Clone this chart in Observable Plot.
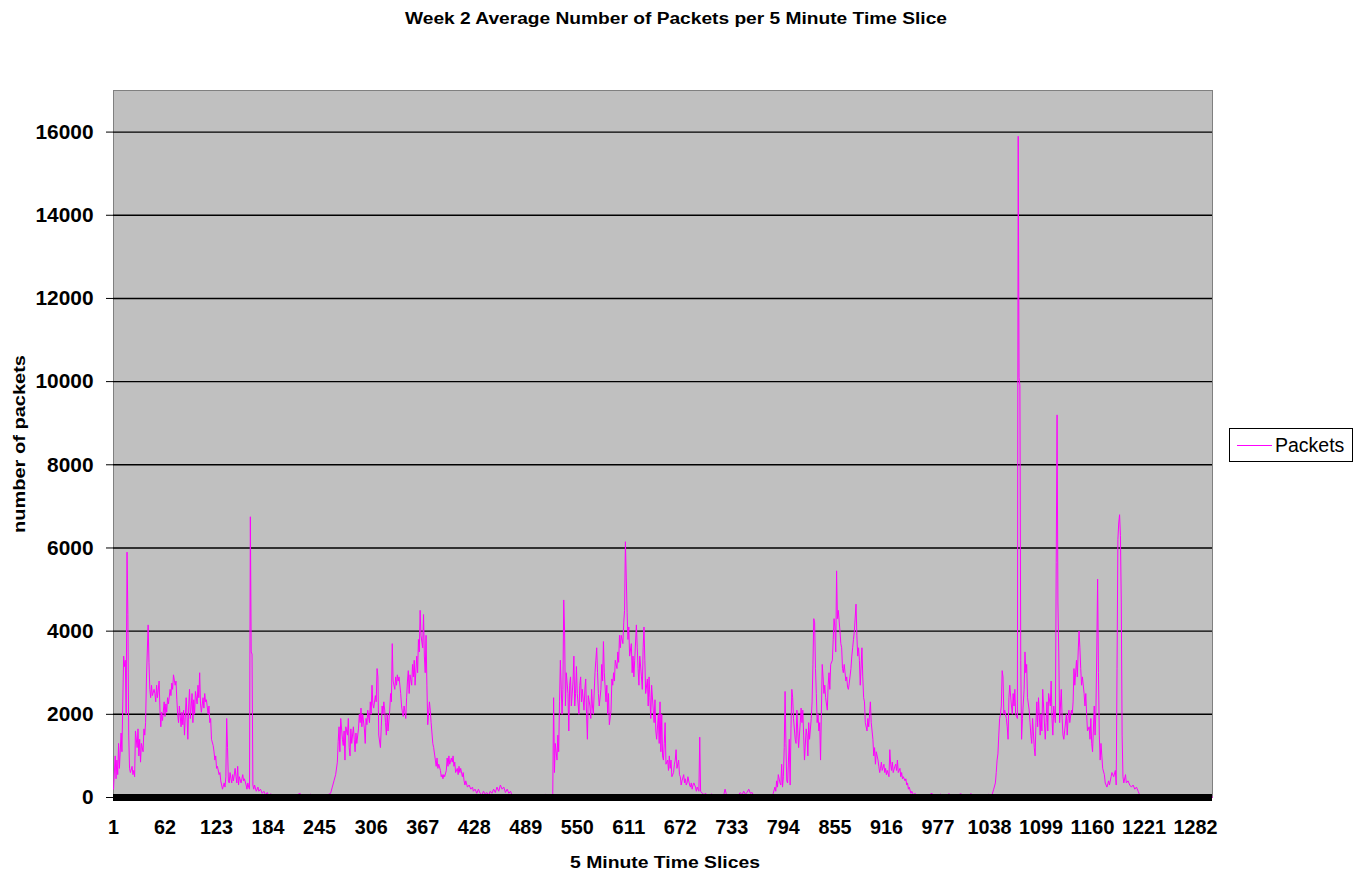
<!DOCTYPE html>
<html><head><meta charset="utf-8">
<script src="https://cdn.jsdelivr.net/npm/d3@7"></script>
<script src="https://cdn.jsdelivr.net/npm/@observablehq/plot@0.6"></script>
<style>
body{margin:0;background:#fff;}
#wrap{position:relative;width:1353px;height:872px;font-family:"Liberation Sans",Arial,sans-serif;}
#legend{position:absolute;left:1229px;top:428px;width:124px;height:34px;border:1px solid #000;background:#fff;box-sizing:border-box;}
#legend .sw{position:absolute;left:7px;top:16px;width:35px;height:1px;background:#ff00ff;}
#legend .lb{position:absolute;left:45px;top:5px;font-size:19.5px;color:#000;}
#chart{position:absolute;left:0;top:0;}
</style></head>
<body>
<div id="wrap">
<div id="chart"></div>
<div id="legend"><div class="sw"></div><div class="lb">Packets</div></div>
</div>
<script>
const chartTitle = "Week 2 Average Number of Packets per 5 Minute Time Slice";
const xLabel = "5 Minute Time Slices";
const yLabel = "number of packets";
const seriesName = "Packets";
const xTickLabels = [1,62,123,184,245,306,367,428,489,550,611,672,733,794,855,916,977,1038,1099,1160,1221,1282];
const yTickValues = [0,2000,4000,6000,8000,10000,12000,14000,16000];
const lastSlice = 1302;
// [time slice, packets]
const packetsBySlice = [
[1,200],[3,1000],[4,450],[5,900],[6,550],[7,1300],[8,700],[10,1550],[11,1100],[12,2300],[13,3400],[14,3150],[15,3300],[16,2000],[17,5900],[18,4400],[19,1500],[20,700],[21,600],[23,750],[24,550],[25,650],[26,500],[27,1600],[29,1200],[30,1650],[31,1000],[32,1400],[33,850],[34,1300],[36,1100],[37,1650],[38,1500],[39,1800],[40,2850],[42,4150],[43,3250],[44,2600],[45,2400],[46,2700],[47,2450],[49,2600],[50,2500],[51,2300],[52,2700],[53,2400],[55,2800],[56,2100],[57,1700],[58,2050],[59,1850],[61,2300],[62,1950],[63,2250],[64,2050],[65,2400],[66,2250],[68,2600],[69,2450],[70,2750],[71,2600],[72,2950],[74,2700],[75,2800],[76,2350],[77,2000],[78,1800],[79,2200],[81,1700],[82,2050],[83,1750],[84,2100],[85,1500],[87,2400],[88,2000],[89,1400],[90,2200],[91,2600],[92,1900],[94,2500],[95,1800],[96,2350],[97,2000],[98,2550],[100,2250],[101,2700],[102,2400],[103,3000],[104,2250],[105,2050],[107,2400],[108,2150],[109,2500],[110,2300],[111,2350],[113,2000],[114,2200],[115,1800],[116,1900],[117,1400],[119,1250],[120,1100],[121,900],[122,1000],[123,700],[124,750],[126,550],[127,600],[128,400],[129,300],[130,200],[132,350],[133,250],[134,500],[135,1900],[136,1200],[137,400],[138,350],[139,600],[140,450],[141,350],[142,550],[143,400],[145,700],[146,500],[147,350],[148,750],[149,300],[150,500],[152,350],[153,450],[154,550],[155,400],[156,450],[158,300],[159,200],[160,350],[161,250],[162,200],[163,6750],[164,3500],[165,3450],[166,300],[167,200],[168,300],[170,150],[172,250],[173,150],[175,200],[177,100],[179,150],[181,60],[183,120],[185,40],[187,90],[191,30],[195,60],[199,20],[203,50],[208,10],[214,30],[222,100],[224,10],[230,20],[234,80],[238,10],[244,40],[250,20],[254,60],[258,100],[260,250],[262,400],[264,550],[266,850],[267,1350],[268,1700],[269,1100],[270,1900],[272,1400],[273,1250],[274,1600],[275,900],[276,1700],[278,1500],[279,1900],[280,1200],[281,1000],[282,1650],[283,1300],[285,1700],[286,1400],[287,1100],[288,1550],[289,1300],[291,1650],[292,2000],[293,1800],[294,2150],[295,1700],[296,2000],[298,1650],[299,1300],[300,1900],[301,1750],[302,2100],[304,1800],[305,2300],[306,2000],[307,2700],[308,2250],[309,2150],[311,2450],[312,2300],[313,3100],[314,2900],[315,1500],[317,1200],[318,1700],[319,2200],[320,2000],[321,2300],[322,2100],
[323,1800],[324,1500],[325,2000],[326,1600],[328,2100],[329,2500],[330,2300],[331,3700],[332,2800],[334,2600],[335,2900],[336,2700],[337,2950],[338,2800],[339,2900],[341,2500],[342,2200],[343,2050],[344,1950],[345,2200],[347,1900],[348,2400],[349,2800],[350,3050],[351,2500],[352,2950],[354,2700],[355,3200],[356,2900],[357,3300],[358,2700],[360,3400],[361,3000],[362,3800],[363,3500],[364,4500],[365,3900],[367,3600],[368,4400],[369,3400],[370,3000],[371,3900],[372,2700],[373,1750],[375,2300],[376,2100],[377,1800],[378,1550],[379,1300],[380,1200],[382,900],[383,750],[384,950],[385,700],[386,800],[388,650],[389,500],[390,550],[391,450],[392,550],[393,500],[395,650],[396,950],[397,750],[398,1000],[399,800],[401,950],[402,850],[403,1000],[404,750],[405,850],[406,600],[408,700],[409,550],[410,750],[411,600],[412,700],[414,500],[415,600],[416,400],[417,300],[418,400],[420,250],[422,300],[424,200],[426,250],[427,150],[429,200],[431,100],[433,200],[435,100],[437,60],[439,150],[441,80],[443,120],[445,50],[447,150],[449,100],[451,200],[453,120],[455,250],[457,150],[459,300],[461,200],[463,250],[465,120],[467,200],[469,100],[471,150],[473,40],[477,20],[481,10],[485,30],[489,10],[493,40],[497,10],[500,20],[504,60],[508,10],[512,80],[516,10],[520,30],[521,50],
[522,2400],[523,600],[524,1300],[526,900],[527,1500],[528,1100],[529,2300],[530,3300],[532,2000],[533,2600],[534,4750],[535,4000],[536,2200],[537,3000],[539,2500],[540,1600],[541,2700],[542,2900],[543,2200],[545,2800],[546,3400],[547,2200],[548,2500],[549,3150],[550,2500],[552,2000],[553,2700],[554,2900],[555,2300],[556,2600],[558,2100],[559,2600],[560,2850],[561,2000],[562,1400],[563,2450],[565,2200],[566,1900],[567,2600],[568,2200],[569,2000],[571,3000],[572,3300],[573,3600],[574,3000],[575,2500],[576,2200],[578,2600],[579,3200],[580,2800],[581,3750],[582,3000],[584,2300],[585,2700],[586,2000],[587,2500],[588,1750],[590,2100],[591,2850],[592,2700],[593,3000],[594,2800],[595,3300],[597,3100],[598,3500],[599,3250],[600,3900],[601,3600],[602,3900],[604,3700],[605,4200],[606,4500],[607,6150],[608,5300],[609,4450],[610,3800],[611,4100],[612,3400],[614,3700],[615,3000],[616,3400],[617,2900],[618,3300],[620,4150],[621,3600],[622,3100],[623,2700],[624,3400],[626,2900],[627,2600],[628,3600],[629,4100],[630,3300],[631,2500],[633,2850],[634,2200],[635,2900],[636,2400],[637,1900],[638,2700],[640,2100],[641,1800],[642,2350],[643,1600],[644,1400],[646,2000],[647,1300],[648,2300],[649,1100],[650,2000],[651,1000],[652,900],[653,1300],[654,1800],[655,800],[657,900],[658,650],[659,1000],[660,700],[661,900],[662,500],[664,600],[665,800],[666,900],[667,1150],[668,700],[670,900],[671,550],[672,500],[673,300],[674,400],[676,550],[677,350],[678,450],[679,300],[680,350],[681,500],[683,300],[684,250],[685,350],[686,200],[687,300],[688,350],[690,250],[691,150],[692,250],[693,200],[694,150],[695,1450],[696,150],[698,100],[700,70],[702,100],[704,50],[706,80],[708,40],[709,90],[711,30],[713,60],[715,20],[719,50],[723,20],[725,200],[727,40],[731,20],[735,60],[739,20],[743,120],[745,60],[747,150],[749,80],[751,120],[753,200],[755,100],[757,120],[759,30],[763,20],[767,40],[771,20],[775,50],[779,30],
[782,100],[784,250],[785,150],[786,400],[787,250],[788,550],[790,350],[791,300],[792,800],[793,250],[794,500],[795,1200],[796,2550],[797,1300],[798,400],[799,350],[801,1400],[802,300],[803,1650],[804,2600],[805,2400],[806,1900],[808,1400],[809,1300],[810,2100],[811,1600],[812,1200],[814,1800],[815,2150],[816,1800],[817,2100],[818,1500],[819,900],[821,1650],[822,1500],[823,1000],[824,1800],[825,1400],[827,1900],[828,2300],[829,3200],[830,4300],[831,4200],[832,3100],[833,2500],[834,1800],[835,2000],[836,1600],[837,1800],[838,900],[840,3200],[841,2900],[842,2500],[843,2700],[844,2400],[846,2100],[847,2700],[848,3000],[849,2600],[850,3200],[852,3300],[853,3800],[854,4300],[855,4100],[856,3500],[857,5450],[858,4300],[859,4500],[861,4000],[862,3700],[863,3600],[864,3100],[865,3000],[866,3200],[868,2800],[869,2900],[870,2650],[871,2600],[872,2750],[874,3100],[875,3400],[876,3600],[877,3800],[878,4000],[880,4650],[881,3900],[882,3400],[883,3600],[884,3300],[885,2700],[887,3600],[888,2900],[889,2400],[890,2300],[891,1800],[893,1600],[894,1900],[895,1700],[896,2000],[897,2300],[898,1800],[900,1400],[901,1000],[902,1200],[903,800],[904,1100],[906,900],[907,750],[908,600],[909,700],[910,850],[911,650],[913,800],[914,600],[915,700],[916,550],[917,650],[919,500],[920,1150],[921,800],[922,650],[923,850],[924,600],[926,750],[927,800],[928,650],[929,900],[930,600],[932,700],[933,500],[934,600],[935,450],[936,500],[938,400],[939,450],[940,300],[941,350],[942,200],[943,250],[945,100],[946,150],[948,60],[950,100],[952,30],[956,60],[960,20],[964,40],[970,100],[972,20],[976,50],
[980,80],[984,20],[990,90],[996,20],[1004,90],[1010,20],[1016,90],[1022,20],[1027,70],[1033,30],[1037,80],[1039,30],[1041,60],[1043,200],[1045,350],[1046,600],[1047,900],[1048,1050],[1049,1500],[1050,1900],[1051,2000],[1052,2200],[1053,3050],[1054,2900],[1055,2000],[1056,2100],[1058,1900],[1059,1700],[1060,1400],[1061,2400],[1062,2700],[1064,2200],[1065,2000],[1066,2500],[1067,2200],[1068,2600],[1069,2000],[1071,1900],[1072,15900],[1073,10100],[1074,9900],[1075,3300],[1076,1400],[1077,1900],[1079,2600],[1080,3500],[1081,3000],[1082,3200],[1083,2400],[1085,2100],[1086,1800],[1087,1500],[1088,1300],[1089,1900],[1091,1200],[1092,1000],[1093,1800],[1094,2300],[1095,1700],[1096,2400],[1098,1500],[1099,2000],[1100,1600],[1101,2600],[1102,2200],[1104,1400],[1105,1800],[1106,2300],[1107,1600],[1108,2500],[1110,2200],[1111,2800],[1112,1900],[1113,1500],[1114,2200],[1116,1800],[1117,5650],[1118,9200],[1119,4700],[1120,3500],[1121,1800],[1123,2600],[1124,1900],[1125,1500],[1126,1400],[1127,1600],[1129,2000],[1130,1500],[1131,1900],[1132,2100],[1133,1800],[1135,2100],[1136,2000],[1137,2300],[1138,3100],[1139,2700],[1141,3300],[1142,2900],[1143,3500],[1144,4000],[1145,3600],[1146,3100],[1147,2700],[1148,2900],[1150,2500],[1151,2200],[1152,2500],[1153,2000],[1154,1600],[1156,1700],[1157,1400],[1158,1900],[1159,1300],[1160,1100],[1162,2200],[1163,1500],[1164,2100],[1165,3500],[1166,5250],[1167,3000],[1168,1500],[1169,900],[1170,1300],[1171,1000],[1172,700],[1174,550],[1175,350],[1177,250],[1179,400],[1180,300],[1182,500],[1183,600],[1185,500],[1187,650],[1188,300],[1189,3100],[1190,6200],[1191,6600],[1192,6800],[1193,6300],[1194,4700],[1195,1500],[1196,500],[1197,350],[1199,550],[1200,350],[1202,400],[1204,300],[1206,250],[1208,300],[1210,200],[1212,250],[1214,150],[1216,50],[1220,20],[1228,40],[1236,10],[1244,30],[1252,10],[1260,20],[1268,10],[1276,30],[1284,10],[1292,20],[1300,10],[1302,10]
];
const data = packetsBySlice.map(([slice, packets]) => ({slice, packets, series: seriesName}));

const chart = Plot.plot({
  width: 1353,
  height: 872,
  marginTop: 90,
  marginBottom: 75,
  marginLeft: 113,
  marginRight: 141,
  style: {fontFamily: '"Liberation Sans", Arial, sans-serif', fontSize: "20px", fontWeight: "bold", color: "#000", background: "transparent"},
  x: {domain: [1, lastSlice]},
  y: {domain: [0, 17000]},
  marks: [
    Plot.frame({fill: "#c0c0c0", stroke: "#808080"}),
    Plot.gridY(yTickValues.filter(d => d > 0), {stroke: "#000", strokeOpacity: 1, strokeWidth: 1.4}),
    Plot.axisY(yTickValues, {tickSize: 7, tickPadding: 13, stroke: "#000", label: null, fontSize: 21, tickFormat: d => String(d)}),
    Plot.axisX(xTickLabels, {tickSize: 0, tickPadding: 22, label: null, fontSize: 21, tickFormat: d => String(d)}),
    Plot.line(data, {x: "slice", y: "packets", stroke: "#ff00ff", strokeWidth: 1}),
    Plot.ruleY([0], {stroke: "#000", strokeWidth: 7}),
    Plot.text([yLabel], {frameAnchor: "left", dx: -94, rotate: -90, textAnchor: "middle", lineAnchor: "middle", fontSize: 17, fontWeight: "bold"}),
    Plot.text([xLabel], {frameAnchor: "bottom", dx: 2, dy: 65, lineAnchor: "middle", fontSize: 17, fontWeight: "bold"}),
    Plot.text([chartTitle], {frameAnchor: "top", dx: 13, dy: -72, lineAnchor: "middle", fontSize: 16, fontWeight: "bold"})
  ]
});
document.getElementById("chart").appendChild(chart);

// stretch text to the widths of the reference
const allText = Array.from(chart.querySelectorAll("text"));
function fitText(t, len) {
  t.setAttribute("textLength", len);
  t.setAttribute("lengthAdjust", "spacingAndGlyphs");
}
chart.querySelectorAll('g[aria-label="x-axis tick label"] text').forEach(t => fitText(t, t.textContent.length * 11));
chart.querySelectorAll('g[aria-label="y-axis tick label"] text').forEach(t => fitText(t, t.textContent.length * 11.6));
allText.forEach(t => {
  const s = t.textContent;
  if (s === chartTitle) fitText(t, 542);
  else if (s === xLabel) fitText(t, 190);
  else if (s === yLabel) fitText(t, 178);
});
</script>
</body></html>
